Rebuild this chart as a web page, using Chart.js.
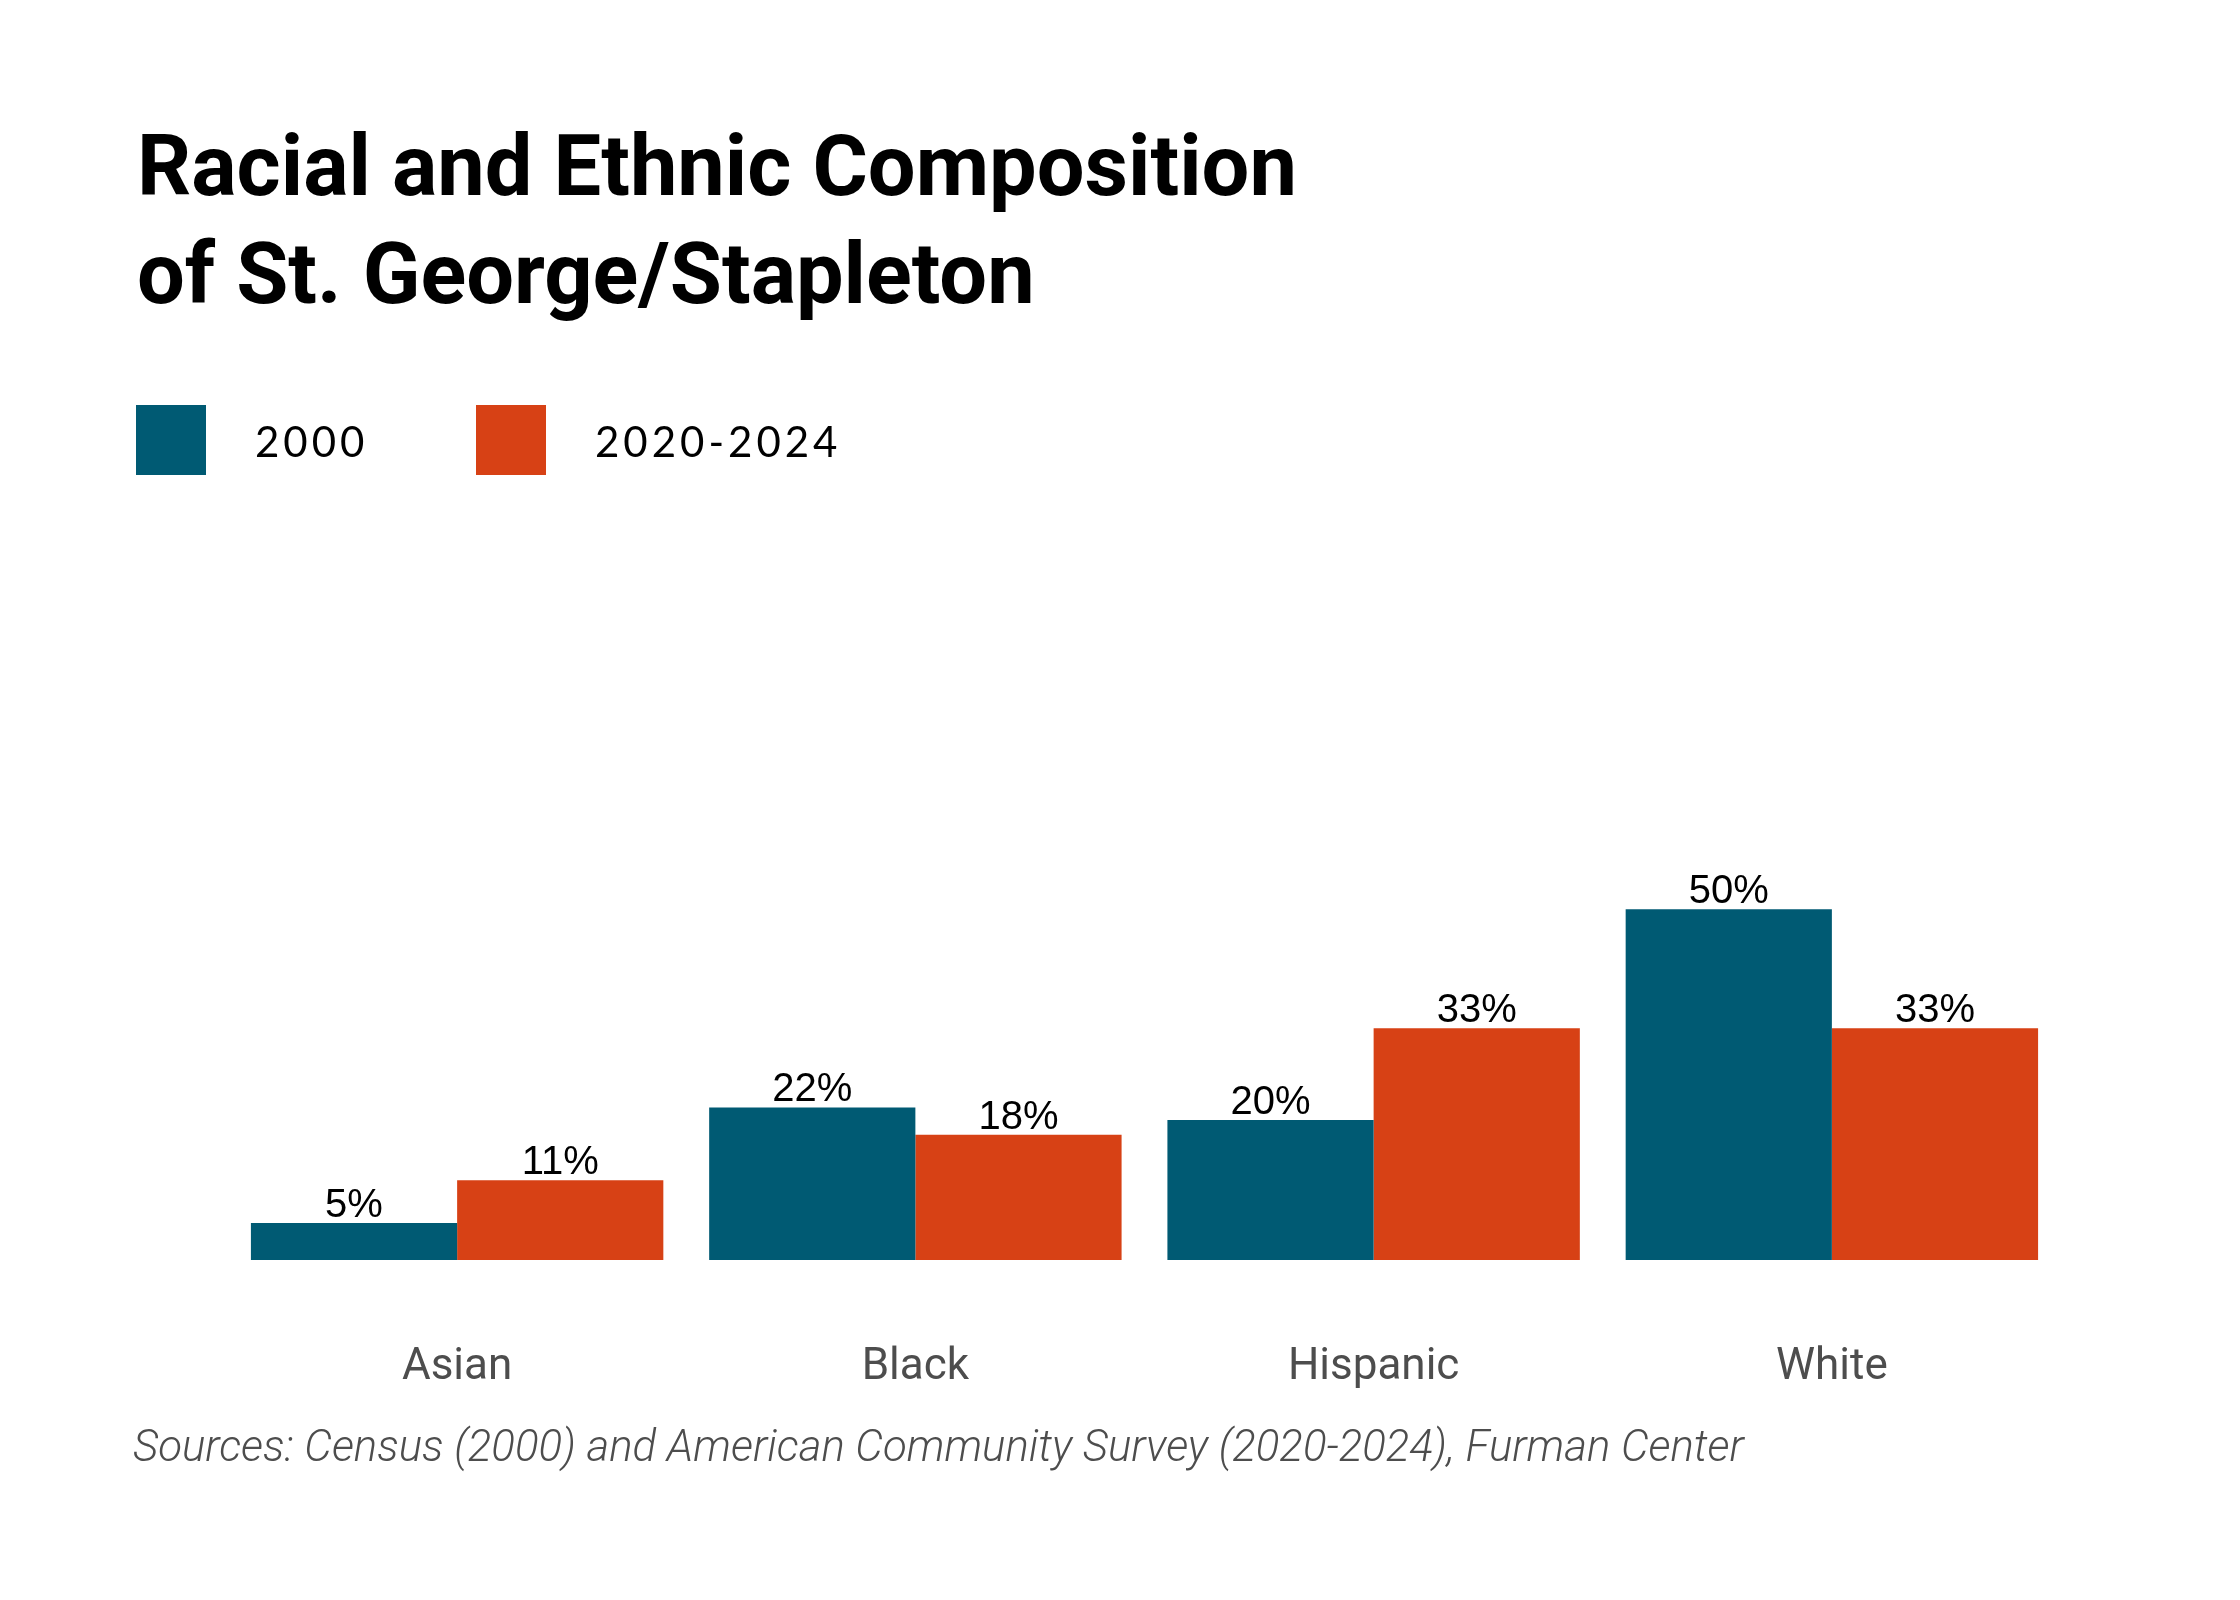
<!DOCTYPE html>
<html>
<head>
<meta charset="utf-8">
<script src="https://cdn.jsdelivr.net/npm/chart.js@4.4.1/dist/chart.umd.min.js"></script>
<style>
  html, body { margin: 0; padding: 0; background: #ffffff; }
  #wrap { width: 2240px; height: 1600px; position: relative; }
  canvas { display: block; }
</style>
</head>
<body>
<div id="wrap"><canvas id="c" width="2240" height="1600" style="width:2240px;height:1600px"></canvas></div>
<script>
// ---- data ----
const titleLines = ['Racial and Ethnic Composition', 'of St. George/Stapleton'];
const sourceText = 'Sources: Census (2000) and American Community Survey (2020-2024), Furman Center';
const categories = ['Asian', 'Black', 'Hispanic', 'White'];
const seriesLabels = ['2000', '2020-2024'];
const values2000 = [5.3, 21.8, 20.0, 50.1];
const values2020 = [11.4, 17.9, 33.1, 33.1];
const seriesColors = ['#005a73', '#d74115'];

// ---- style ----
const TEXT_GRAY = '#4d4d4d';

function fitSize(ctx, fontTpl, text, targetW) {
  ctx.font = fontTpl.replace('{s}', '100');
  const w = ctx.measureText(text).width;
  return 100 * targetW / w;
}

const barLabels = {
  id: 'barLabels',
  afterDatasetsDraw(chart) {
    const ctx = chart.ctx;
    ctx.save();
    ctx.font = '40px "Liberation Sans", Arial, sans-serif';
    ctx.fillStyle = '#000000';
    ctx.textAlign = 'center';
    ctx.textBaseline = 'alphabetic';
    chart.data.datasets.forEach((ds, i) => {
      chart.getDatasetMeta(i).data.forEach((bar, j) => {
        ctx.fillText(Math.round(ds.data[j]) + '%', bar.x, bar.y - 6);
      });
    });
    ctx.restore();
  }
};

const frameText = {
  id: 'frameText',
  afterDraw(chart) {
    const ctx = chart.ctx;
    ctx.save();
    ctx.textAlign = 'left';
    ctx.textBaseline = 'alphabetic';
    // title
    const tTpl = '700 {s}px Roboto, "Open Sans", sans-serif';
    const tSize = fitSize(ctx, tTpl, titleLines[0], 1160);
    ctx.font = tTpl.replace('{s}', tSize.toFixed(2));
    ctx.fillStyle = '#000000';
    ctx.fillText(titleLines[0], 137, 195);
    ctx.fillText(titleLines[1], 137, 303);
    // legend
    const legendX = [136, 476];
    const legendTextX = [255, 595];
    ctx.font = '400 42px Lato, "Open Sans", sans-serif';
    try { ctx.letterSpacing = '4px'; } catch (e) {}
    chart.data.datasets.forEach((ds, i) => {
      ctx.fillStyle = ds.backgroundColor;
      ctx.fillRect(legendX[i], 405, 70, 70);
      ctx.fillStyle = '#000000';
      ctx.fillText(ds.label, legendTextX[i], 457);
    });
    try { ctx.letterSpacing = '0px'; } catch (e) {}
    // source
    const sTpl = 'italic 300 {s}px Roboto, "Open Sans", sans-serif';
    const sSize = fitSize(ctx, sTpl, sourceText, 1611);
    ctx.font = sTpl.replace('{s}', sSize.toFixed(2));
    ctx.fillStyle = TEXT_GRAY;
    ctx.fillText(sourceText, 133, 1461);
    ctx.restore();
  }
};

new Chart(document.getElementById('c'), {
  type: 'bar',
  data: {
    labels: categories,
    datasets: [
      { label: seriesLabels[0], data: values2000, backgroundColor: seriesColors[0], borderWidth: 0 },
      { label: seriesLabels[1], data: values2020, backgroundColor: seriesColors[1], borderWidth: 0 }
    ]
  },
  options: {
    responsive: false,
    maintainAspectRatio: false,
    devicePixelRatio: 1,
    animation: false,
    layout: { padding: { left: 228, right: 179, top: 560, bottom: 200 } },
    datasets: { bar: { categoryPercentage: 0.9, barPercentage: 1.0 } },
    plugins: {
      legend: { display: false },
      title: { display: false },
      tooltip: { enabled: false }
    },
    scales: {
      x: {
        grid: { display: false, drawTicks: false },
        border: { display: false },
        ticks: {
          color: TEXT_GRAY,
          font: { family: 'Roboto, "Open Sans", sans-serif', size: 44, weight: '400' },
          padding: 82,
          maxRotation: 0
        },
        afterFit(scale) { scale.height = 140; }
      },
      y: {
        display: false,
        min: 0,
        max: 100
      }
    }
  },
  plugins: [barLabels, frameText]
});
</script>
</body>
</html>
